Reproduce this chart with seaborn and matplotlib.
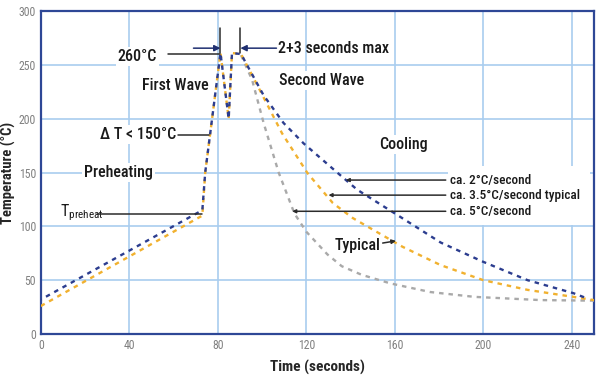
import numpy as np
import pandas as pd
import matplotlib.pyplot as plt
import seaborn as sns
from matplotlib.patches import Rectangle

# values
blue_t = [0, 73, 74.3, 76.6, 81.2, 84.9, 86.4, 90.5, 100.6, 109.7, 118.8, 134.5, 143, 160, 180.7, 200, 220, 240.6, 247]
blue_temp = [32, 115, 150, 187, 261, 200, 261, 260, 222, 196, 177, 149, 134, 112, 85, 67, 50, 38, 33]

orange_t = [0, 73, 74.3, 76.6, 81.2, 84.9, 86.4, 90.5, 99, 109, 120.5, 132, 141, 163.5, 180.7, 200, 220, 240.6, 250]
orange_temp = [26, 110, 150, 187, 261, 200, 261, 260, 226.5, 186.5, 149.5, 121.6, 107.7, 81, 64, 50, 41, 34.5, 31.5]

grey_t = [90.5, 95.5, 100.7, 107.5, 114.6, 120, 129.5, 136, 145, 158, 176, 196, 226, 250]
grey_temp = [259, 236, 196, 150, 112, 95, 74, 63, 55, 47, 39, 34.5, 31.5, 31]

x_ticks = [0, 40, 80, 120, 160, 200, 240]
y_ticks = [0, 50, 100, 150, 200, 250, 300]

sns.set_style("white")
plt.rcParams['font.family'] = ['Roboto Condensed', 'Liberation Sans Narrow', 'Roboto', 'DejaVu Sans']

fig = plt.figure(figsize=(6, 3.8), dpi=100)
ax = fig.add_axes([0.068, 0.121, 0.922, 0.85])

dash = (0, (1.9, 2.1))
sns.lineplot(x=grey_t, y=grey_temp, color="#a9a9a9", linestyle=dash, linewidth=1.7, estimator=None, ax=ax, zorder=3)
sns.lineplot(x=orange_t, y=orange_temp, color="#f1b12f", linestyle=dash, linewidth=1.7, estimator=None, ax=ax, zorder=4)
sns.lineplot(x=blue_t, y=blue_temp, color="#2c3d8f", linestyle=(1.5, (1.9, 2.1)), linewidth=1.7, estimator=None, ax=ax, zorder=5)

ax.set_xlim(0, 250)
ax.set_ylim(0, 300)
ax.set_xticks(x_ticks)
ax.set_yticks(y_ticks)
ax.set_xticks(np.arange(20, 250, 40), minor=True)
ax.set_axisbelow(True)
ax.grid(True, color="#a9cdef", linewidth=1.2)
ax.tick_params(axis='both', which='major', length=0, labelsize=8.5, labelcolor="#808080", pad=3.5)
ax.tick_params(axis='x', which='minor', direction='in', length=3, width=1.2, color="#2c3d8f")
for s in ax.spines.values():
    s.set_color("#2e4796")
    s.set_linewidth(1.6)

ax.set_xlabel("Time (seconds)", fontsize=11, fontweight='bold', labelpad=6)
ax.set_ylabel("Temperature (°C)", fontsize=10.5, fontweight='bold', labelpad=2)

# white box behind the cooling-rate labels
ax.add_patch(Rectangle((184, 101), 64, 55, facecolor='white', edgecolor='none', zorder=1))

box = dict(facecolor='white', edgecolor='none', pad=1.5)
dark = "#2b2b2b"
ink = "#1a1a1a"
lw = 1.1
fs = 11.5

ax.text(43.6, 258, "260°C", fontsize=fs, fontweight='medium', ha='center', va='center', bbox=box, color=ink)
ax.plot([57.5, 81], [260, 260], color=dark, lw=lw, zorder=6)
ax.plot([81.2, 81.2], [261, 284], color=dark, lw=lw, zorder=6)
ax.plot([90.2, 90.2], [261, 284], color=dark, lw=lw, zorder=6)
ax.annotate("", xy=(81.2, 265.5), xytext=(69, 265.5),
            arrowprops=dict(arrowstyle='-|>', color="#1f2f70", lw=lw, mutation_scale=9, shrinkA=0, shrinkB=0), zorder=6)
ax.annotate("", xy=(90.2, 265.5), xytext=(106.5, 265.5),
            arrowprops=dict(arrowstyle='-|>', color="#1f2f70", lw=lw, mutation_scale=9, shrinkA=0, shrinkB=0), zorder=6)
ax.text(107, 265.5, "2+3 seconds max", fontsize=fs, fontweight='medium', ha='left', va='center', color=ink)

ax.text(61, 231, "First Wave", fontsize=fs, fontweight='medium', ha='center', va='center', bbox=box, color=ink)
ax.text(127, 235.5, "Second Wave", fontsize=fs, fontweight='medium', ha='center', va='center', bbox=box, color=ink)

ax.text(44, 185, "Δ T < 150°C", fontsize=fs, fontweight='medium', ha='center', va='center', bbox=box, color=ink)
ax.plot([62, 75.8], [185, 185], color=dark, lw=lw, zorder=6)

ax.text(35, 150, "Preheating", fontsize=fs, fontweight='medium', ha='center', va='center', bbox=box, color=ink)

ax.text(8.5, 113, "T$_{\\mathregular{preheat}}$", fontsize=fs, ha='left', va='center', bbox=box, color=ink)
ax.plot([25.4, 73], [111.5, 111.5], color=dark, lw=lw, zorder=6)

ax.text(164, 176, "Cooling", fontsize=fs, fontweight='medium', ha='center', va='center', bbox=box, color=ink)

rates = [("ca. 2°C/second", 137.8, 143), ("ca. 3.5°C/second typical", 130, 129), ("ca. 5°C/second", 113.6, 114)]
for label, x0, yv in rates:
    ax.annotate("", xy=(x0, yv), xytext=(183, yv),
                arrowprops=dict(arrowstyle='-|>', color=dark, lw=lw, mutation_scale=5, shrinkA=0, shrinkB=0), zorder=6)
    ax.text(185, yv, label, fontsize=9.5, fontweight='medium', ha='left', va='center', color=ink, zorder=7)

ax.text(143, 82.6, "Typical", fontsize=fs, fontweight='medium', ha='center', va='center', bbox=box, color=ink)
ax.annotate("", xy=(160.5, 86.5), xytext=(154.5, 84.5),
            arrowprops=dict(arrowstyle='-|>', color=dark, lw=lw, mutation_scale=6, shrinkA=0, shrinkB=0), zorder=6)

fig.savefig("out.png", dpi=100)
